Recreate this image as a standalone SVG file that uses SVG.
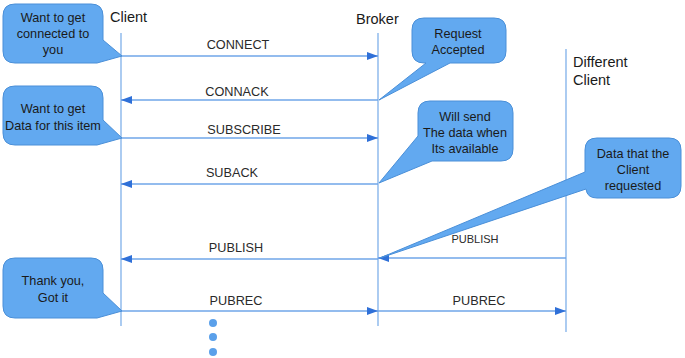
<svg xmlns="http://www.w3.org/2000/svg" width="685" height="358" viewBox="0 0 685 358">
  <style>
    .lifeline { stroke: #7fb0ea; stroke-width: 1.3; fill: none; }
    .msg { stroke: #6fa6e8; stroke-width: 1.5; fill: none; marker-end: url(#arrow); }
    .head { font-family: "Liberation Sans", Arial, sans-serif; font-size: 14.5px; fill: #1a1a1a; }
    .label { font-family: "Liberation Sans", Arial, sans-serif; font-size: 12.7px; fill: #2a2a2a; text-anchor: middle; }
    .small { font-size: 11px; }
    .bubble path { fill: #62a9f0; stroke: #4a8fd8; stroke-width: 1; }
    .bubble text { font-family: "Liberation Sans", Arial, sans-serif; font-size: 12.7px; fill: #1a1a1a; text-anchor: middle; }
    .dot { fill: #5aa0ea; }
  </style>
  <defs>
    <marker id="arrow" viewBox="0 0 11 8" refX="11" refY="4" markerWidth="11" markerHeight="8" markerUnits="userSpaceOnUse" orient="auto">
      <path d="M0,0 L11,4 L0,8 Z" fill="#2f70d8"/>
    </marker>
  </defs>

  <rect width="685" height="358" fill="#ffffff"/>

  <!-- participants -->
  <g id="client">
    <text class="head" x="110" y="22">Client</text>
    <line class="lifeline" x1="121" y1="33" x2="121" y2="326"/>
  </g>
  <g id="broker">
    <text class="head" x="356" y="24">Broker</text>
    <line class="lifeline" x1="378" y1="33" x2="378" y2="326"/>
  </g>
  <g id="different-client">
    <text class="head" x="573" y="67">Different</text>
    <text class="head" x="573" y="85">Client</text>
    <line class="lifeline" x1="566" y1="49" x2="566" y2="332"/>
  </g>

  <!-- messages -->
  <g id="connectors">
    <line class="msg" x1="121" y1="56" x2="378" y2="56"/>
    <text class="label" x="238" y="49">CONNECT</text>

    <line class="msg" x1="378" y1="100" x2="121" y2="100"/>
    <text class="label" x="237" y="96">CONNACK</text>

    <line class="msg" x1="121" y1="138" x2="378" y2="138"/>
    <text class="label" x="244" y="134">SUBSCRIBE</text>

    <line class="msg" x1="378" y1="184" x2="121" y2="184"/>
    <text class="label" x="232" y="177">SUBACK</text>

    <line class="msg" x1="378" y1="259" x2="121" y2="259"/>
    <text class="label" x="236" y="252">PUBLISH</text>

    <line class="msg" x1="566" y1="258" x2="378" y2="258"/>
    <text class="label small" x="475" y="243">PUBLISH</text>

    <line class="msg" x1="121" y1="311" x2="378" y2="311"/>
    <text class="label" x="236" y="305">PUBREC</text>

    <line class="msg" x1="378" y1="311" x2="566" y2="311"/>
    <text class="label" x="479" y="305">PUBREC</text>
  </g>

  <!-- continuation dots -->
  <g id="continuation">
    <circle class="dot" cx="213" cy="323" r="4"/>
    <circle class="dot" cx="213" cy="337" r="4"/>
    <circle class="dot" cx="213" cy="352" r="4"/>
  </g>

  <!-- callouts -->
  <g id="note-connect" class="bubble">
    <path d="M15,4 H91 Q103,4 103,16 V40 L122,56 L97,63 H15 Q3,63 3,51 V16 Q3,4 15,4 Z"/>
    <text x="53" y="22">Want to get</text>
    <text x="53" y="38">connected to</text>
    <text x="53" y="54">you</text>
  </g>

  <g id="note-subscribe" class="bubble">
    <path d="M15,86 H91 Q103,86 103,98 V120 L122,138 L97,145 H15 Q3,145 3,133 V98 Q3,86 15,86 Z"/>
    <text x="53" y="113">Want to get</text>
    <text x="53" y="130">Data for this item</text>
  </g>

  <g id="note-accepted" class="bubble">
    <path d="M424,18 H494 Q506,18 506,30 V51 Q506,63 494,63 H450 L379,100 L426,63 H424 Q412,63 412,51 V30 Q412,18 424,18 Z"/>
    <text x="458" y="38">Request</text>
    <text x="458" y="54">Accepted</text>
  </g>

  <g id="note-will-send" class="bubble">
    <path d="M430,101 H501 Q513,101 513,113 V149 Q513,161 501,161 H432 L379,183 L418,136 V113 Q418,101 430,101 Z"/>
    <text x="465" y="121">Will send</text>
    <text x="465" y="137">The data when</text>
    <text x="465" y="153">Its available</text>
  </g>

  <g id="note-data" class="bubble">
    <path d="M597,138 H669 Q681,138 681,150 V186 Q681,198 669,198 H597 Q587,198 586,189 L380,258 L585,172 V150 Q585,138 597,138 Z"/>
    <text x="633" y="158">Data that the</text>
    <text x="633" y="174">Client</text>
    <text x="633" y="190">requested</text>
  </g>

  <g id="note-thanks" class="bubble">
    <path d="M15,258 H91 Q103,258 103,270 V293 L122,311 L97,318 H15 Q3,318 3,306 V270 Q3,258 15,258 Z"/>
    <text x="53" y="285">Thank you,</text>
    <text x="53" y="302">Got it</text>
  </g>
</svg>
